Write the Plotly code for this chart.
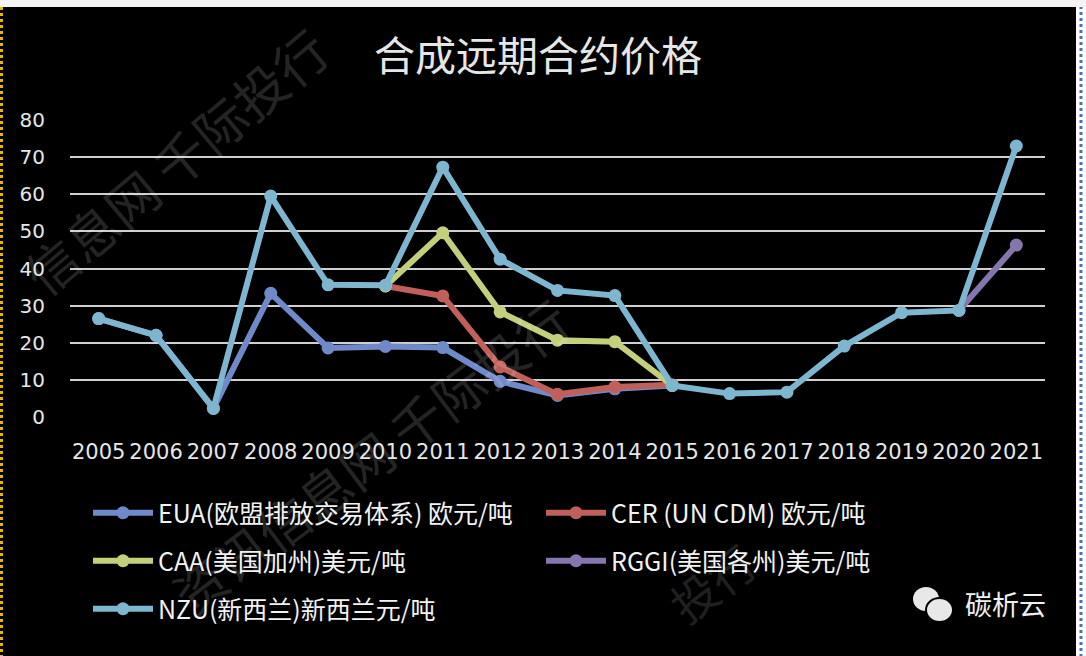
import plotly.graph_objects as go

years = list(range(2005, 2022))
eua = [26.5, 22.0, 2.3, 33.3, 18.6, 19.0, 18.7, 9.6, 5.8, 7.6, 8.5, None, None, None, None, None, None]
cer = [None, None, None, None, None, 35.3, 32.6, 13.5, 6.1, 8.1, 8.7, None, None, None, None, None, None]
caa = [None, None, None, None, None, 35.3, 49.6, 28.3, 20.7, 20.3, 8.5, None, None, None, None, None, None]
rggi = [None, None, None, None, None, None, None, None, None, None, None, None, None, None, None, 28.7, 46.3]
nzu = [26.5, 22.0, 2.3, 59.5, 35.6, 35.5, 67.3, 42.5, 34.1, 32.7, 8.5, 6.3, 6.7, 19.1, 28.1, 28.7, 73.0]

names = ["EUA(欧盟排放交易体系) 欧元/吨", "CER (UN CDM) 欧元/吨", "CAA(美国加州)美元/吨",
         "RGGI(美国各州)美元/吨", "NZU(新西兰)新西兰元/吨"]
colors = ["#7089c9", "#c0605a", "#c4cf7c", "#8676ae", "#7eb6cf"]
series = [eua, cer, caa, rggi, nzu]
legend_ids = ["legend", "legend2", "legend3", "legend4", "legend5"]

W, H = 1086, 656
L, R, T, B = 70, 1045, 120, 417  # plot area in pixels


def px(x):
    return (x - L) / (R - L)


def py(y):
    return (B - y) / (B - T)


CJK = "Noto Sans CJK SC"
fig = go.Figure()
for name, col, ys, lg in zip(names, colors, series, legend_ids):
    fig.add_trace(go.Scatter(
        x=years, y=ys, name=name, mode="lines+markers",
        line=dict(color=col, width=6), marker=dict(color=col, size=13),
        legend=lg, cliponaxis=False, connectgaps=False, showlegend=True,
    ))

# legend placements (one item per legend)
leg_pos = [(88, 513), (541, 513), (88, 561), (541, 561), (88, 609)]
leg_layout = {}
for lg, (lx, ly) in zip(legend_ids, leg_pos):
    leg_layout[lg] = dict(
        x=px(lx), y=py(ly), xanchor="left", yanchor="middle",
        orientation="h", bgcolor="rgba(0,0,0,0)", itemwidth=60, visible=True,
        font=dict(family=CJK, size=25, color="#f2f2f2"),
    )

shapes = [
    # right white strip with dotted blue border
    dict(type="rect", xref="paper", yref="paper", x0=px(1076), x1=px(1095), y0=py(-10), y1=py(670),
         fillcolor="white", line=dict(width=0), layer="above"),
    dict(type="line", xref="paper", yref="paper", x0=px(1081), x1=px(1081), y0=py(0), y1=py(656),
         line=dict(color="#4a6fc0", width=3, dash="dot"), layer="above"),
    # top white strip
    dict(type="rect", xref="paper", yref="paper", x0=px(-10), x1=px(1095), y0=py(-10), y1=py(7),
         fillcolor="#f4f4f4", line=dict(width=0), layer="above"),
    # left yellow dotted border
    dict(type="line", xref="paper", yref="paper", x0=px(1.5), x1=px(1.5), y0=py(7), y1=py(656),
         line=dict(color="#e8b400", width=3, dash="dot"), layer="above"),
    # wechat-like icon
    dict(type="circle", xref="paper", yref="paper", x0=px(913), x1=px(939), y0=py(611), y1=py(587),
         fillcolor="#e8e8e8", line=dict(width=0), layer="above"),
    dict(type="circle", xref="paper", yref="paper", x0=px(926), x1=px(953), y0=py(622), y1=py(598),
         fillcolor="#e8e8e8", line=dict(color="black", width=2), layer="above"),
]

wm_color = "rgba(255,255,255,0.14)"
annotations = [
    dict(text="碳析云", x=px(1005), y=py(603), xref="paper", yref="paper", showarrow=False,
         xanchor="center", yanchor="middle",
         font=dict(family=CJK, size=27, color="#f0f0f0")),
    dict(text="信息网 千际投行", x=px(175), y=py(160), xref="paper", yref="paper", showarrow=False,
         xanchor="center", yanchor="middle",
         textangle=-40, font=dict(family=CJK, size=52, color=wm_color)),
    dict(text="资讯信息网 千际投行", x=px(370), y=py(455), xref="paper", yref="paper", showarrow=False,
         xanchor="center", yanchor="middle",
         textangle=-37, font=dict(family=CJK, size=52, color=wm_color)),
    dict(text="投行", x=px(712), y=py(582), xref="paper", yref="paper", showarrow=False,
         xanchor="center", yanchor="middle",
         textangle=-37, font=dict(family=CJK, size=46, color=wm_color)),
]

fig.update_layout(
    width=W, height=H,
    margin=dict(l=L, r=W - R, t=T, b=H - B, autoexpand=False),
    paper_bgcolor="black", plot_bgcolor="black", showlegend=True,
    title=dict(text="合成远期合约价格", x=538 / W, xref="container", y=1 - 57 / H,
               yref="container", xanchor="center", yanchor="middle",
               font=dict(family=CJK, size=41, color="#e6e6e6")),
    xaxis=dict(range=[2004.5, 2021.5], tickmode="array", tickvals=years,
               ticktext=[str(y) for y in years], showgrid=False, zeroline=False,
               showline=False, ticks="", ticklabelstandoff=20,
               tickfont=dict(family="DejaVu Sans", size=21, color="#e6e6e6")),
    yaxis=dict(range=[0, 80], tickvals=[0, 10, 20, 30, 40, 50, 60, 70, 80],
               showgrid=True, gridcolor="#d0d0d0", gridwidth=2, zeroline=False,
               showline=False, ticks="", ticklabelstandoff=24,
               tickfont=dict(family="DejaVu Sans", size=20, color="#e6e6e6")),
    shapes=shapes, annotations=annotations,
    **leg_layout,
)

fig.write_html("out.html", config={"displayModeBar": False},
               post_script="document.body.style.margin='0';document.body.style.overflow='hidden';")
